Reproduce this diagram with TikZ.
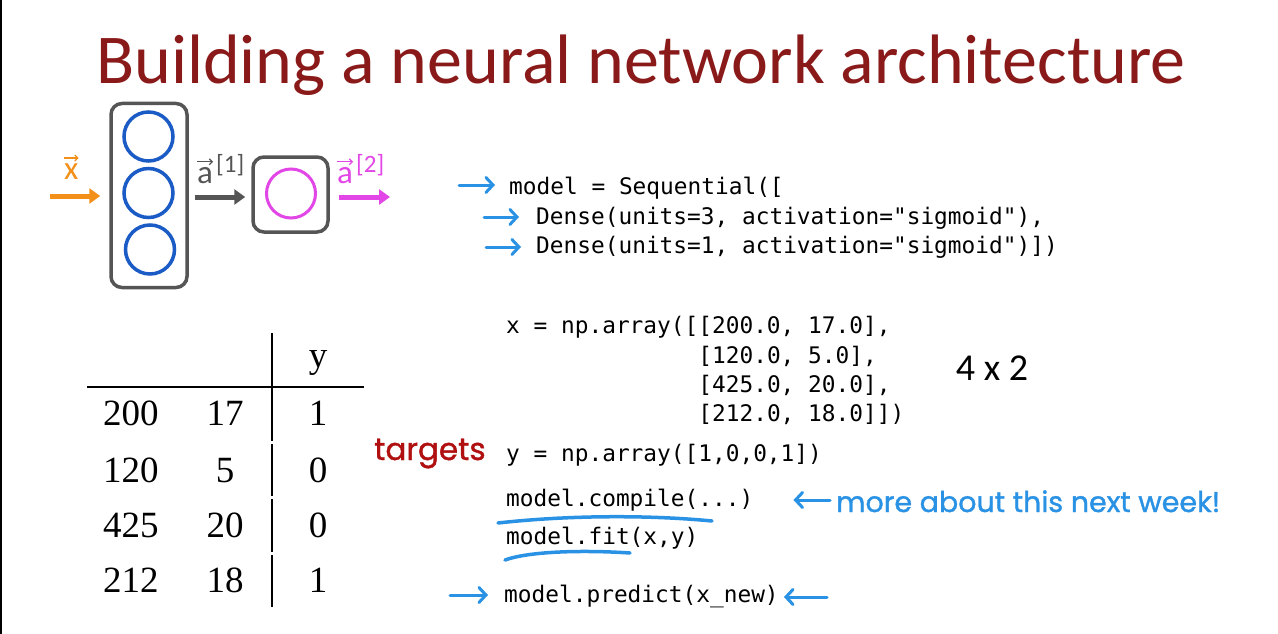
\documentclass[tikz,border=0pt]{standalone}
\usepackage{fontspec}
\usetikzlibrary{arrows.meta,calc}
\setmainfont{Carlito}
\newfontfamily\codefont{DejaVu Sans Mono}
\newfontfamily\serifnum{Liberation Serif}
\newfontfamily\handfont{Poppins}[FakeBold=1.2]
\definecolor{titlered}{HTML}{8A1A1A}
\definecolor{netorange}{HTML}{F39019}
\definecolor{netblue}{HTML}{1A5BC6}
\definecolor{netmag}{HTML}{E246E6}
\definecolor{netgray}{HTML}{555555}
\definecolor{handblue}{HTML}{2A92E4}
\definecolor{handred}{HTML}{B01010}
\tikzset{
  codeline/.style={anchor=base west, inner sep=0pt, font=\codefont\fontsize{22.8}{26}\selectfont, text=black},
  tabnum/.style={anchor=base, inner sep=0pt, font=\serifnum\fontsize{37}{40}\selectfont},
  boxstyle/.style={draw=netgray, line width=3.5pt, rounded corners=11pt},
  neuron/.style={circle, draw=netblue, line width=3.5pt, minimum size=49pt, inner sep=0pt},
  thickarrow/.style={line width=5pt, -{Triangle[length=11pt,width=15pt]}},
  handarrow/.style={draw=handblue, line width=3pt, line cap=round, line join=round, -{Straight Barb[length=7pt,width=15pt,line cap=round]}},
  handline/.style={draw=handblue, line width=3.5pt, line cap=round},
  vecletter/.style={inner sep=0pt, anchor=base west, font=\fontsize{33}{38}\selectfont},
  vecsup/.style={inner sep=0pt, anchor=base west, font=\fontsize{25}{30}\selectfont},
  vecarrow/.style={line width=1.3pt, -{Straight Barb[length=3pt,width=6pt]}},
  handtext/.style={inner sep=0pt, anchor=base west, font=\handfont\fontsize{28.5}{32}\selectfont}
}
\begin{document}
\begin{tikzpicture}[x=1pt,y=-1pt]
\useasboundingbox (0,0) rectangle (1278,634);
\fill[white] (0,0) rectangle (1278,634);
\draw[black, line width=1.5pt] (0.75,0) -- (0.75,634);

% title
\node[anchor=base, inner sep=0pt, text=titlered, font=\fontsize{70}{80}\selectfont] (title) at (641,84) {Building a neural network architecture};

% network
\node[boxstyle, minimum width=76pt, minimum height=184pt, inner sep=0pt] (layer1) at (149,195.5) {};
\node[neuron] (n1) at (148.5,136.5) {};
\node[neuron] (n2) at (148.5,193) {};
\node[neuron] (n3) at (150,249.5) {};
\node[boxstyle, minimum width=75pt, minimum height=75pt, inner sep=0pt] (layer2) at (290.5,194.5) {};
\node[circle, draw=netmag, line width=3pt, minimum size=49pt, inner sep=0pt] (m1) at (291,193.5) {};

\coordinate (xin) at (50,196);
\coordinate (aout) at (390,197);
\draw[netorange, thickarrow] (xin) -- ($(layer1.west |- xin)+(-9,0)$);
\draw[netgray, thickarrow] ($(layer1.east |- 0,197)+(6,0)$) -- ($(layer2.west |- 0,197)+(-6,0)$);
\draw[netmag, thickarrow] ($(layer2.east |- aout)+(9,0)$) -- (aout);

% vector labels
\node[vecletter, text=netorange] (xl) at (64,179) {x};
\draw[netorange, vecarrow] ([yshift=5pt]xl.north west) -- ([yshift=5pt]xl.north east);
\node[vecletter, text=netgray] (a1l) at (197,183) {a};
\node[vecsup, text=netgray] (a1s) at (216,172) {[1]};
\draw[netgray, vecarrow] ([yshift=5pt]a1l.north west) -- ([yshift=5pt]a1l.north east);
\node[vecletter, text=netmag] (a2l) at (337,183) {a};
\node[vecsup, text=netmag] (a2s) at (356,172) {[2]};
\draw[netmag, vecarrow] ([yshift=5pt]a2l.north west) -- ([yshift=5pt]a2l.north east);

% code block 1
\node[codeline] (c1) at (509,194) {model = Sequential([};
\node[codeline] (c2) at (536,224) {Dense(units=3, activation="sigmoid"),};
\node[codeline] (c3) at (536,253) {Dense(units=1, activation="sigmoid")])};
\coordinate (h1s) at (459,185);
\coordinate (h2s) at (484,217);
\coordinate (h3s) at (486,247);
\draw[handarrow] (h1s) -- ([xshift=-14pt]c1.west |- h1s);
\draw[handarrow] (h2s) -- ([xshift=-17pt]c2.west |- h2s);
\draw[handarrow] (h3s) -- ([xshift=-15pt]c3.west |- h3s);

% x array
\node[codeline] (x1) at (506,333) {x = np.array([[200.0, 17.0],};
\node[codeline] (x2) at (506,363) {\phantom{x = np.array([}[120.0, 5.0],};
\node[codeline] (x3) at (506,392) {\phantom{x = np.array([}[425.0, 20.0],};
\node[codeline] (x4) at (506,421) {\phantom{x = np.array([}[212.0, 18.0]])};
\node[anchor=base, inner sep=0pt, font=\fontsize{38}{42}\selectfont] (dim) at (992,380) {4 x 2};

\node[codeline] (yarr) at (506,461) {y = np.array([1,0,0,1])};
\node[handtext, text=handred, font=\handfont\fontsize{31}{34}\selectfont] (targets) at (374,460) {targets};

\node[codeline] (comp) at (506,506) {model.compile(...)};
\node[codeline] (fit) at (506,544) {model.fit(x,y)};
\node[codeline] (pred) at (504,602) {model.predict(x\_new)};

% handwritten underlines
\coordinate (u1a) at (498,523);
\coordinate (u1b) at (712,521);
\draw[handline] (u1a) .. controls (570,515) and (650,515) .. (u1b);
\coordinate (u2a) at (505,560);
\coordinate (u2b) at (630,553);
\draw[handline] (u2a) .. controls (530,551) and (585,550) .. (u2b);

\coordinate (nw1) at (830,500);
\draw[handarrow] (nw1) -- ([xshift=40pt]comp.east |- nw1);
\node[handtext, text=handblue] (note) at (836,512) {more about this next week!};

\coordinate (p1) at (450,595);
\draw[handarrow] (p1) -- ([xshift=-16pt]pred.west |- p1);
\coordinate (p2) at (827,597);
\draw[handarrow] (p2) -- ([xshift=5pt]pred.east |- p2);

% table
\coordinate (hl0) at (87,387);
\coordinate (hl1) at (364,387);
\draw[black, line width=1.6pt] (hl0) -- (hl1);
\draw[black, line width=1.6pt] (272,333) -- (272,441) (272,444) -- (272,496) (272,499) -- (272,552) (272,555) -- (272,607);

\node[tabnum] (hy) at (318,367) {y};
\node[tabnum, anchor=base west] (r1a) at (103,425) {200};
\node[tabnum] (r1b) at (225,425) {17};
\node[tabnum] (r1c) at (318,425) {1};
\node[tabnum, anchor=base west] (r2a) at (103,482) {120};
\node[tabnum] (r2b) at (225,482) {5};
\node[tabnum] (r2c) at (318,482) {0};
\node[tabnum, anchor=base west] (r3a) at (103,537) {425};
\node[tabnum] (r3b) at (225,537) {20};
\node[tabnum] (r3c) at (318,537) {0};
\node[tabnum, anchor=base west] (r4a) at (103,592) {212};
\node[tabnum] (r4b) at (225,592) {18};
\node[tabnum] (r4c) at (318,592) {1};
\end{tikzpicture}
\end{document}
